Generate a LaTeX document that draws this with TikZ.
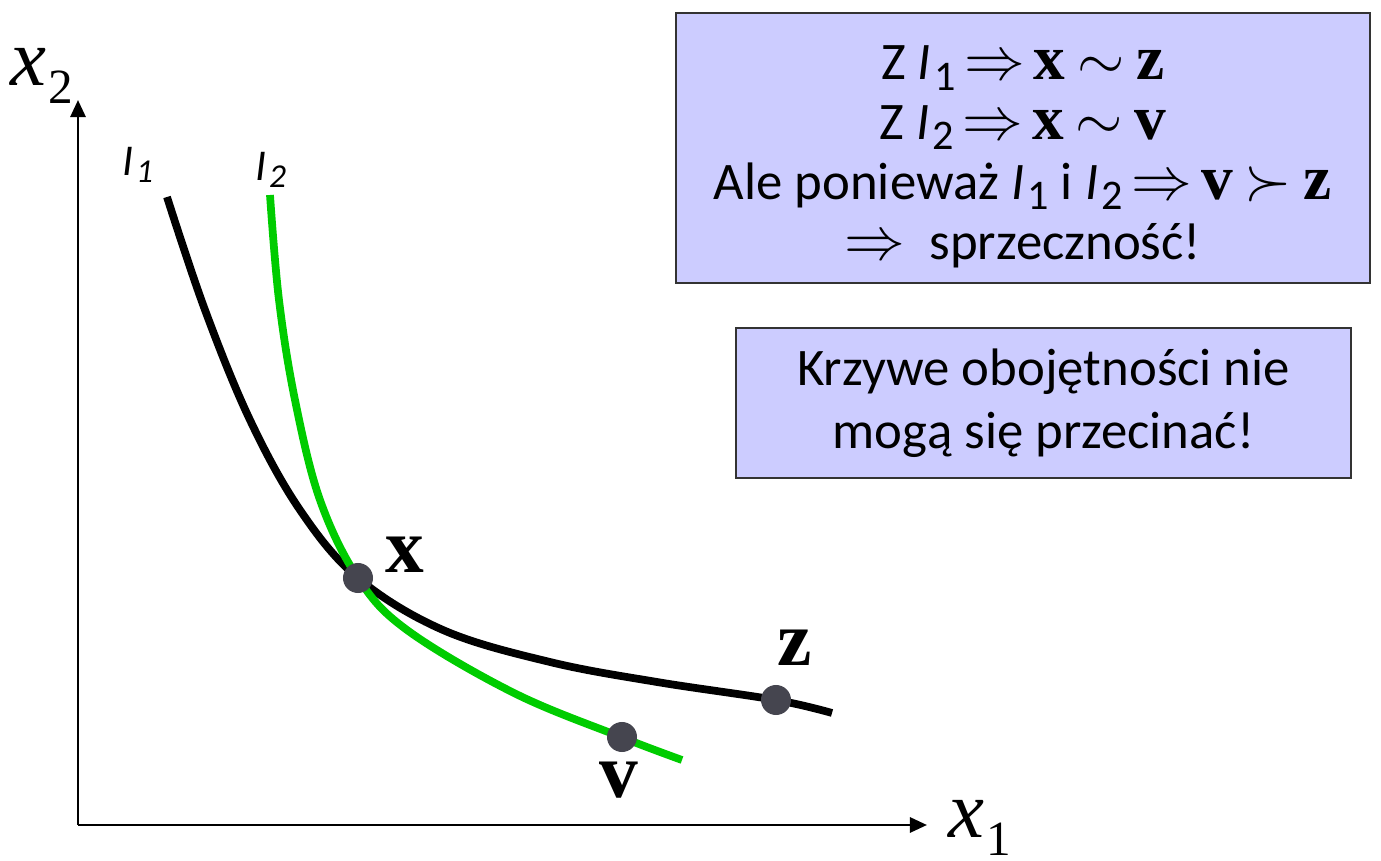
\documentclass[tikz,border=0pt]{standalone}
\usepackage{fontspec}
\setmainfont{Carlito}
\newfontfamily\tnr{Liberation Serif}
\usetikzlibrary{arrows.meta}
\definecolor{boxfill}{HTML}{CCCCFF}
\definecolor{dotc}{HTML}{45454F}
\definecolor{greenc}{HTML}{00CC00}
\newcommand{\bx}[1]{{\tnr\bfseries\fontsize{18}{17}\selectfont #1}}
\newcommand{\mrel}[1]{{\fontsize{18}{17}\selectfont$#1$}}
\newcommand{\Isb}[1]{\textit{I}\kern0.06em\raisebox{-0.4ex}{\fontsize{12}{12}\selectfont #1}}
\newcommand{\axlab}[2]{{\tnr\fontsize{23}{24}\selectfont\textit{#1}\kern0.03em\raisebox{-0.5ex}{\fontsize{14}{14}\selectfont #2}}}
\newcommand{\boxfont}{\fontsize{15}{17}\selectfont\setlength{\lineskiplimit}{-20pt}}
\begin{document}
\begin{tikzpicture}[x=0.01cm,y=-0.01cm,
  infobox/.style={draw=black!80,line width=0.7pt,fill=boxfill,inner sep=0pt},
  boxtext/.style={align=center,inner sep=0pt,font=\boxfont},
  axis/.style={line width=0.8pt,-{Triangle[length=0.17cm,width=0.15cm]}},
  curve/.style={line width=2.2pt},
  pt/.style={circle,fill=dotc,minimum size=0.3cm,inner sep=0pt},
  ptlab/.style={font=\tnr\bfseries\fontsize{22}{24}\selectfont,inner sep=0pt},
  ilab/.style={font=\fontsize{12.5}{14}\selectfont,inner sep=0pt}]
\useasboundingbox (0,0) rectangle (1381,861);
% axes
\coordinate (O) at (78,825);
\coordinate (ytop) at (78,100);
\coordinate (xend) at (927,825);
\draw[axis] (O) -- (ytop);
\draw[axis] (O) -- (xend);
\node[inner sep=0pt] (lx2) at (42,76) {\axlab{x}{2}};
\node[inner sep=0pt] (lx1) at (980,828) {\axlab{x}{1}};
% curves
\draw[curve,black] plot[smooth,tension=0.6] coordinates {(167,197) (205,310) (250,420) (300,510) (358,578) (443,630) (550,662) (657,682) (776,700) (832,713)};
\draw[curve,greenc] plot[smooth,tension=0.6] coordinates {(270,195) (279,300) (295,400) (320,500) (358,578) (407,630) (514,693) (621,737) (682,760)};
% curve labels
\node[ilab] (li1) at (138,165) {\textit{I\kern0.05em\raisebox{-0.35ex}{\fontsize{9.5}{10}\selectfont 1}}};
\node[ilab] (li2) at (271,170) {\textit{I\kern0.05em\raisebox{-0.35ex}{\fontsize{9.5}{10}\selectfont 2}}};
% points
\node[pt] (x) at (358,578) {};
\node[pt] (z) at (776,700) {};
\node[pt] (v) at (622,737) {};
\node[ptlab] (lx) at (405,555) {x};
\node[ptlab] (lz) at (795,648) {z};
\node[ptlab] (lv) at (619,780) {v};
% boxes
\node[infobox,minimum width=6.94cm,minimum height=2.70cm] (b1) at (1023,148) {};
\node[boxtext] (b1t) at (1023,157)
  {Z \Isb{1}\,\mrel{\Rightarrow}\,\bx{x} \mrel{\sim} \bx{z}\\
   Z \Isb{2}\,\mrel{\Rightarrow}\,\bx{x} \mrel{\sim} \bx{v}\\
   Ale ponieważ \Isb{1} i \Isb{2}\,\mrel{\Rightarrow}\,\bx{v} \mrel{\succ} \bx{z}\\
   \mrel{\Rightarrow}\ \ sprzeczność!};
\node[infobox,minimum width=6.15cm,minimum height=1.50cm] (b2) at (1043.5,403) {};
\node[boxtext] (b2t) at (1043.5,403) {Krzywe obojętności nie\\[1pt] mogą się przecinać!};
\end{tikzpicture}
\end{document}
